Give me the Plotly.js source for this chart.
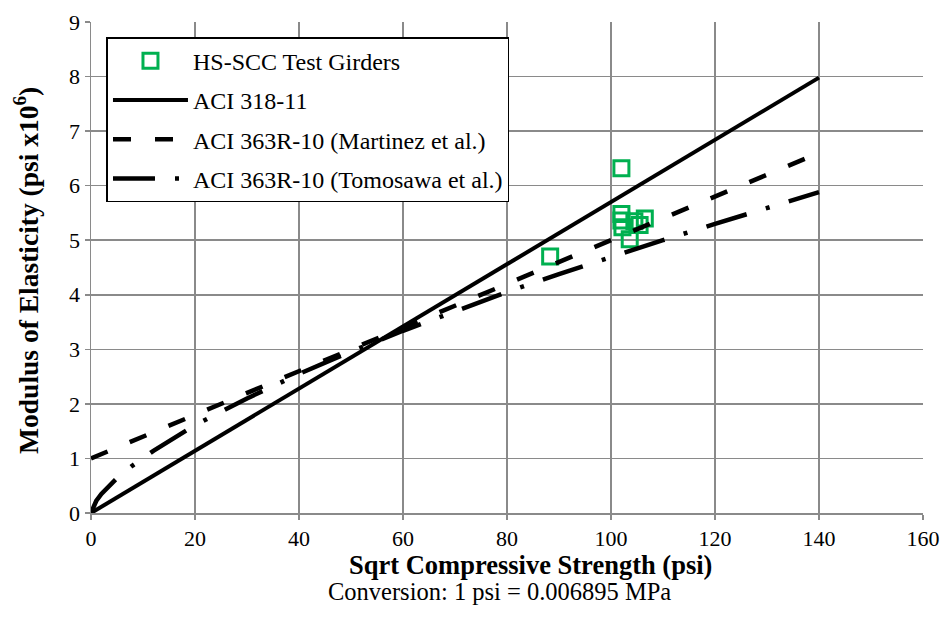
<!DOCTYPE html>
<html>
<head>
<meta charset="utf-8">
<script src="https://cdn.plot.ly/plotly-3.0.1.min.js"></script>
<style>html,body{margin:0;padding:0;background:#fff;}#chart{width:943px;height:628px;}</style>
</head>
<body>
<div id="chart"></div>
<script>
// Test girders (sqrt f'c in psi, E in 10^6 psi)
const testX = [88.3, 102.0, 102.0, 102.0, 102.2, 104.5, 106.5, 105.5, 103.6];
const testY = [4.70, 6.32, 5.48, 5.36, 5.24, 5.35, 5.40, 5.28, 5.02];

// ACI 318-11
const aci318X = [0, 20, 40, 60, 80, 100, 120, 140];
const aci318Y = [0, 1.14, 2.28, 3.42, 4.56, 5.70, 6.84, 7.98];

// ACI 363R-10 (Martinez et al.)
const martX = [0, 20, 40, 60, 80, 100, 120, 140];
const martY = [1.0, 1.8, 2.6, 3.4, 4.2, 5.0, 5.8, 6.6];

// ACI 363R-10 (Tomosawa et al.)
const tomoX = [0, 1, 2, 3, 5, 8, 12, 20, 30, 40, 50, 60, 70, 80, 90, 100, 110, 120, 130, 140];
const tomoY = [0, 0.22, 0.35, 0.45, 0.64, 0.87, 1.14, 1.61, 2.10, 2.55, 2.96, 3.34, 3.70, 4.05, 4.38, 4.70, 5.00, 5.30, 5.59, 5.88];

const xTitle = 'Sqrt Compressive Strength (psi)';
const yTitle = 'Modulus of Elasticity (psi x10<sup>6</sup>)';
const note = 'Conversion: 1 psi = 0.006895 MPa';

const serif = "Liberation Serif";

const traces = [
  {x: testX, y: testY, type: 'scatter', mode: 'markers', name: 'HS-SCC Test Girders', legendgroup: 'a',
   marker: {symbol: 'square-open', size: 15, color: '#00B050', line: {width: 3, color: '#00B050'}}},
  {x: aci318X, y: aci318Y, type: 'scatter', mode: 'lines', name: 'ACI 318-11', legendgroup: 'b',
   line: {color: '#000', width: 4}},
  {x: martX, y: martY, type: 'scatter', mode: 'lines', name: 'ACI 363R-10 (Martinez et al.)', legendgroup: 'c',
   line: {color: '#000', width: 4.5, dash: '18px,24px'}},
  {x: tomoX, y: tomoY, type: 'scatter', mode: 'lines', name: 'ACI 363R-10 (Tomosawa et al.)', legendgroup: 'd',
   line: {color: '#000', width: 4.5, dash: '42px,20px,4px,20px'}}
];

const layout = {
  width: 943, height: 628,
  margin: {l: 91, r: 20, t: 22, b: 115},
  paper_bgcolor: '#fff', plot_bgcolor: '#fff',
  font: {family: serif, color: '#000', size: 18},
  showlegend: true,
  legend: {
    x: 0.0186, y: 0.969, xanchor: 'left', yanchor: 'top',
    bgcolor: '#fff', bordercolor: '#000', borderwidth: 1.5,
    font: {family: serif, size: 24, color: '#000'},
    tracegroupgap: 5, traceorder: 'grouped', itemwidth: 75
  },
  xaxis: {
    range: [0, 160], dtick: 20, tick0: 0,
    showgrid: true, gridcolor: '#8a8a8a', gridwidth: 1.5,
    showline: true, linecolor: '#8a8a8a', linewidth: 1.5,
    ticks: 'outside', ticklen: 5, tickcolor: '#8a8a8a', tickwidth: 1.5,
    zeroline: false, mirror: false,
    tickfont: {family: serif, size: 22, color: '#000'}
  },
  yaxis: {
    range: [0, 9], dtick: 1, tick0: 0,
    showgrid: true, gridcolor: '#8a8a8a', gridwidth: 1.5,
    showline: true, linecolor: '#8a8a8a', linewidth: 1.5,
    ticks: 'outside', ticklen: 5, tickcolor: '#8a8a8a', tickwidth: 1.5,
    zeroline: false,
    tickfont: {family: serif, size: 22, color: '#000'}
  },
  annotations: [
    {text: '<b>' + xTitle + '</b>', xref: 'paper', yref: 'paper', x: 0.5286, y: -0.106,
     xanchor: 'center', yanchor: 'middle', showarrow: false, font: {family: serif, size: 26.5, color: '#000'}},
    {text: '<b>' + yTitle + '</b>', xref: 'paper', yref: 'paper', x: -0.077, y: 0.495, textangle: -90,
     xanchor: 'center', yanchor: 'middle', showarrow: false, font: {family: serif, size: 27.5, color: '#000'}},
    {text: note, xref: 'paper', yref: 'paper', x: 0.491, y: -0.159,
     xanchor: 'center', yanchor: 'middle', showarrow: false, font: {family: serif, size: 24.5, color: '#000'}}
  ]
};

Plotly.newPlot('chart', traces, layout, {displayModeBar: false, staticPlot: true});
</script>
</body>
</html>
